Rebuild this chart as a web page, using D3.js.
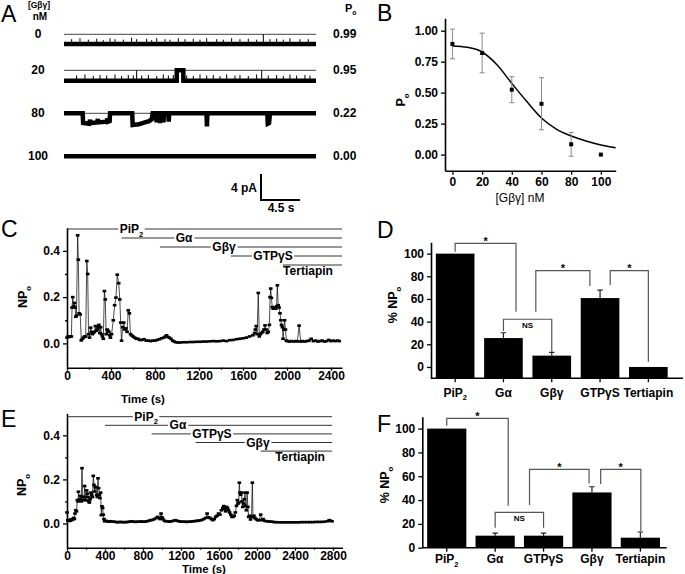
<!DOCTYPE html>
<html><head><meta charset="utf-8">
<script src="https://cdn.jsdelivr.net/npm/d3@7"></script>
<style>body{margin:0;background:#fff}svg{display:block}</style>
</head><body>
<svg id="fig" width="685" height="574"></svg>
<script>
// ---------------- DATA ----------------
// Panel A: single-channel traces (time s, current pA relative to closed level)
const aConc = ['0','20','80','100'];
const aPo = ['0.99','0.95','0.22','0.00'];
const aTrace0 = [[0,-1.5],[29,-1.5]];
const aTrace20 = [[0,-1.6],[12.97,-1.6],[12.98,0],[13.73,0],[13.74,-1.6],[29,-1.6]];
const aTrace80 = [[0,0],[2.15,0],[2.2,-1.5],[2.9,-1.6],[3.0,-1.0],[3.05,-1.5],[3.8,-1.4],[3.9,-0.9],[3.95,-1.4],[4.9,-1.3],[5.0,-0.8],[5.05,-1.3],[5.25,-1.2],[5.3,0],[7.85,0],[7.9,-1.8],[8.6,-1.7],[9.3,-1.4],[9.8,-1.2],[10.1,-0.9],[10.2,0],[10.6,0],[10.65,-1.4],[10.7,0],[11.0,0],[11.05,-1.5],[11.1,0],[11.4,0],[11.45,-1.4],[11.5,0],[12.0,0],[12.05,-1.3],[12.1,0],[16.4,0],[16.45,-2.0],[16.5,0],[23.4,0],[23.45,-1.6],[23.6,-1.5],[23.7,0],[29,0]];
const aTrace100 = [[0,0],[29,0]];
// brief closures (time s, fraction of way back to closed level)
const aClosures0 = [[0.88,0.5],[1.84,0.6],[2.8,0.45],[3.76,0.55],[4.52,0.4],[5.29,0.6],[5.87,0.5],[6.83,0.45],[7.78,0.65],[8.36,0.5],[9.51,0.55],[10.09,0.4],[10.67,0.6],[11.62,0.5],[12.2,0.45],[13.16,0.6],[13.92,0.5],[14.88,0.55],[15.65,0.45],[16.42,0.6],[17.57,0.5],[18.33,0.45],[19.29,0.6],[20.25,0.5],[21.21,0.55],[22.17,0.45],[22.94,1.0],[23.7,0.5],[24.47,0.55],[25.24,0.45],[26.0,0.6],[27.15,0.5],[28.11,0.5]];
const aClosures20 = [[1.45,0.5],[2.41,0.6],[3.37,0.45],[4.14,0.55],[4.91,0.5],[5.87,0.6],[6.63,0.45],[7.4,0.55],[7.98,0.5],[8.36,1.0],[8.94,0.5],[9.71,0.55],[10.67,0.45],[11.43,0.6],[12.01,0.5],[12.58,0.55],[14.12,0.5],[14.88,0.45],[15.65,0.6],[16.42,0.5],[17.18,0.55],[17.95,0.45],[18.72,0.6],[19.68,0.5],[20.25,0.55],[21.21,0.45],[22.17,0.6],[22.75,1.0],[23.51,0.5],[24.47,0.55],[25.24,0.45],[26.0,0.6],[26.77,0.5],[27.73,0.55],[28.31,0.5]];

// Panel B
const bConc = [0,20,40,60,80,100];
const bPo = [0.893,0.82,0.524,0.41,0.083,0];
const bErr = [0.12,0.16,0.105,0.21,0.096,0];
const bFitX = [0,10,20,30,40,50,60,70,80,90,100,110];
const bFitY = [0.877,0.866,0.828,0.725,0.575,0.43,0.295,0.205,0.15,0.11,0.078,0.056];

// Panel C: NPo vs time
const cData = [[0,0.025],[10,0.03],[20,0.028],[30,0.03],[40,0.03],[46,0.155],[52,0.2],[60,0.16],[68,0.175],[74,0.155],[80,0.115],[86,0.12],[97,0.467],[103,0.362],[110,0.13],[120,0.125],[130,0.013],[140,0.02],[150,0.025],[160,0.03],[170,0.03],[180,0.356],[188,0.3],[196,0.04],[205,0.025],[215,0.068],[222,0.05],[230,0.04],[240,0.045],[250,0.05],[258,0.075],[266,0.055],[275,0.06],[282,0.07],[290,0.08],[298,0.045],[306,0.07],[314,0.04],[322,0.03],[330,0.02],[340,0.226],[348,0.19],[356,0.04],[364,0.06],[372,0.055],[380,0.05],[388,0.035],[395,0.025],[405,0.04],[421,0.1],[433,0.165],[445,0.198],[457,0.297],[470,0.26],[480,0.19],[488,0.09],[496,0.012],[506,0.07],[516,0.09],[526,0.06],[536,0.065],[546,0.05],[557,0.143],[567,0.13],[577,0.04],[587,0.035],[600,0.03],[615,0.025],[630,0.02],[645,0.02],[660,0.015],[680,0.015],[700,0.018],[720,0.012],[740,0.012],[760,0.01],[780,0.012],[800,0.012],[820,0.015],[840,0.018],[860,0.022],[880,0.025],[895,0.03],[905,0.035],[915,0.028],[930,0.025],[945,0.02],[960,0.012],[975,0.008],[990,0.005],[1010,0.004],[1030,0.004],[1060,0.005],[1090,0.005],[1120,0.006],[1150,0.006],[1180,0.007],[1210,0.007],[1240,0.008],[1270,0.008],[1300,0.009],[1330,0.01],[1360,0.009],[1390,0.01],[1420,0.012],[1450,0.01],[1480,0.014],[1510,0.015],[1540,0.018],[1570,0.02],[1600,0.022],[1630,0.025],[1660,0.03],[1690,0.035],[1705,0.045],[1712,0.06],[1720,0.075],[1728,0.04],[1739,0.218],[1748,0.03],[1758,0.04],[1768,0.045],[1780,0.05],[1790,0.06],[1800,0.078],[1810,0.06],[1820,0.045],[1830,0.05],[1840,0.08],[1846,0.2],[1852,0.237],[1858,0.197],[1866,0.157],[1874,0.15],[1882,0.15],[1890,0.155],[1898,0.15],[1905,0.16],[1912,0.251],[1920,0.165],[1928,0.155],[1936,0.13],[1944,0.1],[1950,0.08],[1958,0.07],[1964,0.02],[1972,0.06],[1978,0.1],[1986,0.06],[1994,0.012],[2005,0.01],[2020,0.008],[2040,0.01],[2060,0.008],[2080,0.01],[2095,0.009],[2110,0.077],[2125,0.008],[2140,0.01],[2160,0.008],[2180,0.01],[2200,0.012],[2220,0.02],[2240,0.01],[2260,0.012],[2280,0.008],[2300,0.01],[2320,0.012],[2340,0.008],[2360,0.01],[2380,0.015],[2400,0.01],[2420,0.012],[2440,0.01],[2460,0.012],[2475,0.01]];
const cTreat = ['PiP_2','Gα','Gβγ','GTPγS','Tertiapin'];
const cTreatStart = [0,497,845,1490,1961];
const cTreatLabelT = [586,1064,1427,1873,2191];

// Panel E
const eData = [[0,0.05],[8,0.015],[16,0.012],[24,0.015],[32,0.012],[40,0.018],[50,0.015],[60,0.02],[70,0.025],[78,0.02],[84,0.045],[92,0.06],[100,0.055],[109,0.106],[116,0.1],[120,0.144],[128,0.106],[136,0.11],[144,0.125],[150,0.1],[158,0.251],[166,0.12],[172,0.106],[180,0.12],[186,0.17],[194,0.12],[200,0.105],[207,0.15],[214,0.135],[222,0.12],[230,0.1],[236,0.095],[244,0.11],[252,0.14],[260,0.13],[268,0.12],[277,0.216],[284,0.175],[291,0.145],[298,0.165],[305,0.165],[312,0.13],[319,0.12],[326,0.205],[333,0.16],[340,0.13],[347,0.115],[354,0.14],[361,0.038],[368,0.078],[375,0.07],[382,0.04],[389,0.02],[396,0.01],[410,0.012],[425,0.01],[440,0.008],[460,0.01],[480,0.008],[500,0.008],[520,0.006],[540,0.006],[560,0.007],[580,0.006],[600,0.006],[620,0.006],[640,0.007],[660,0.008],[680,0.01],[700,0.008],[720,0.007],[740,0.008],[760,0.008],[780,0.009],[800,0.008],[820,0.008],[840,0.01],[860,0.012],[880,0.015],[900,0.016],[920,0.02],[940,0.025],[955,0.03],[968,0.025],[980,0.02],[990,0.045],[1000,0.028],[1010,0.02],[1025,0.012],[1040,0.01],[1060,0.01],[1080,0.008],[1100,0.01],[1120,0.012],[1140,0.015],[1160,0.012],[1180,0.01],[1200,0.008],[1220,0.008],[1240,0.008],[1260,0.007],[1280,0.008],[1300,0.008],[1320,0.01],[1340,0.01],[1360,0.012],[1380,0.012],[1400,0.014],[1420,0.016],[1440,0.02],[1460,0.025],[1475,0.045],[1490,0.028],[1505,0.025],[1520,0.02],[1535,0.015],[1550,0.02],[1565,0.03],[1580,0.035],[1595,0.045],[1610,0.04],[1625,0.06],[1640,0.07],[1650,0.079],[1660,0.065],[1670,0.055],[1680,0.075],[1690,0.07],[1700,0.06],[1712,0.05],[1724,0.04],[1736,0.03],[1748,0.03],[1760,0.035],[1772,0.05],[1784,0.08],[1793,0.106],[1800,0.09],[1808,0.095],[1814,0.185],[1820,0.14],[1828,0.13],[1836,0.14],[1842,0.1],[1850,0.075],[1858,0.09],[1866,0.11],[1874,0.14],[1880,0.08],[1888,0.06],[1896,0.14],[1904,0.075],[1912,0.03],[1922,0.035],[1932,0.018],[1942,0.03],[1951,0.185],[1958,0.03],[1968,0.035],[1978,0.025],[1990,0.02],[2005,0.015],[2020,0.015],[2039,0.04],[2050,0.015],[2065,0.02],[2080,0.012],[2100,0.01],[2120,0.01],[2140,0.008],[2160,0.008],[2180,0.006],[2200,0.006],[2230,0.005],[2260,0.005],[2290,0.005],[2320,0.005],[2350,0.005],[2380,0.005],[2410,0.005],[2440,0.005],[2470,0.006],[2500,0.006],[2530,0.006],[2560,0.006],[2590,0.006],[2620,0.007],[2650,0.007],[2680,0.007],[2710,0.008],[2740,0.01],[2760,0.015],[2775,0.012],[2790,0.01]];
const eTreat = ['PiP_2','Gα','GTPγS','Gβγ','Tertiapin'];
const eTreatStart = [0,400,891,1355,2039];
const eTreatLabelT = [832,1168,1526,2010,2453];

// Panel D
const dCats = ['PiP_2','Gα','Gβγ','GTPγS','Tertiapin'];
const dVals = [100,25.5,10,60.8,0];
const dErr = [0,4.7,2.9,7,0];
// brackets: [leftIdx, rightIdx, top, leftLegEnd, rightLegEnd, label]
const dBrackets = [[0,1.26,109,101.7,48.8,'*'],[1,2,42.1,31.8,13.5,'NS'],[1.67,2.79,85,48.8,71.5,'*'],[3.21,4,85,72.4,4.7,'*']];

// Panel F
const fCats = ['PiP_2','Gα','GTPγS','Gβγ','Tertiapin'];
const fVals = [100,10.1,10.1,46.4,8.4];
const fErr = [0,2.1,2.1,4.8,4.8];
const fBrackets = [[0,1.27,108.6,102.4,35.3,'*'],[1,2,29.7,16.8,16.8,'NS'],[1.71,2.94,65.8,35.9,54.1,'*'],[3.18,4.01,65.8,53.5,14.0,'*']];

// ---------------- DRAWING ----------------
const FONT = '"Liberation Sans", Arial, Helvetica, sans-serif';
const svg = d3.select('#fig').attr('font-family', FONT);

function rich(sel, label, fs) {
  const parts = []; let buf = ''; let i = 0;
  while (i < label.length) {
    if (label[i] === '_') { if (buf) parts.push([buf, false]); buf = ''; parts.push([label[i+1], true]); i += 2; }
    else { buf += label[i]; i++; }
  }
  if (buf) parts.push([buf, false]);
  let shifted = false;
  parts.forEach(([s, isSub]) => {
    const ts = sel.append('tspan').text(s);
    if (isSub) { ts.attr('font-size', fs * 0.62).attr('dy', fs * 0.3); shifted = true; }
    else if (shifted) { ts.attr('dy', -fs * 0.3); shifted = false; }
  });
  return sel;
}
function txt(x, y, label, fs, opts = {}) {
  const t = svg.append('text').attr('x', x).attr('y', y)
    .attr('font-size', fs).attr('font-weight', opts.weight || 'bold')
    .attr('text-anchor', opts.anchor || 'start').attr('fill', '#000');
  if (opts.rotate) t.attr('transform', `rotate(-90,${x},${y})`);
  return rich(t, label, fs);
}
function styleAxis(g, keepDomain = true) {
  g.attr('font-family', FONT).attr('font-size', 12).attr('font-weight', 'bold');
  g.selectAll('text').attr('fill', '#000');
  g.selectAll('.tick line').attr('stroke', '#000').attr('stroke-width', 1.3);
  if (keepDomain) g.select('.domain').attr('stroke', '#000').attr('stroke-width', 1.6);
  else g.select('.domain').remove();
}
function panelLetter(x, y, s) {
  svg.append('text').attr('x', x).attr('y', y).attr('font-size', 23).attr('font-weight', 'normal').attr('fill', '#000').text(s);
}

// ===== Panel A =====
panelLetter(1, 21.7, 'A');
const xA = d3.scaleLinear().domain([0, 29]).range([64, 316]);
const yPA = d3.scaleLinear().domain([0, -1]).range([0, 6.5]);
const rowY = [34.3, 70.3, 113.3, 156.2];
const traces = [aTrace0, aTrace20, aTrace80, aTrace100];
const closures = [aClosures0, aClosures20, [], []];
txt(39, 8, '[Gβγ]', 8.5, {anchor: 'middle'});
txt(40, 19.5, 'nM', 10, {anchor: 'middle'});
txt(345, 12, 'P_o', 11, {anchor: 'start'});
aConc.forEach((c, i) => {
  const base = rowY[i];
  txt(38, base + 4, c, 12, {anchor: 'middle'});
  txt(333, base + 4, aPo[i], 12);
  if (i < 3) svg.append('line').attr('x1', xA(0)).attr('x2', xA(29)).attr('y1', base).attr('y2', base)
    .attr('stroke', '#444').attr('stroke-width', 1);
  const line = d3.line().x(d => xA(d[0])).y(d => base + yPA(d[1]));
  svg.append('path').attr('d', line(traces[i])).attr('fill', 'none').attr('stroke', '#000')
    .attr('stroke-width', 4.5).attr('stroke-linejoin', 'miter');
  const lvl = traces[i][0][1];
  svg.selectAll(null).data(closures[i]).enter().append('line')
    .attr('x1', d => xA(d[0])).attr('x2', d => xA(d[0]))
    .attr('y1', base + yPA(lvl)).attr('y2', d => base + yPA(lvl * (1 - d[1])))
    .attr('stroke', '#000').attr('stroke-width', 1);
});
// scale bar
const sbX = 261, sbY = 200;
svg.append('path').attr('d', `M${sbX},${sbY - yPA(-4)}V${sbY}H${sbX + xA(4.5) - xA(0)}`)
  .attr('fill', 'none').attr('stroke', '#000').attr('stroke-width', 2);
txt(257, 191.5, '4 pA', 12, {anchor: 'end'});
txt(281, 211.5, '4.5 s', 12, {anchor: 'middle'});

// ===== Panel B =====
panelLetter(377, 20.7, 'B');
const xB = d3.scaleLinear().domain([-5, 110]).range([445, 615.7]);
const yB = d3.scaleLinear().domain([-0.13, 1.1]).range([170.7, 18.3]);
const gBy = svg.append('g').attr('transform', 'translate(445,0)')
  .call(d3.axisLeft(yB).tickValues([0, 0.25, 0.5, 0.75, 1]).tickFormat(d3.format('.2f')).tickSize(4).tickSizeOuter(0).tickPadding(3));
styleAxis(gBy);
const gBx = svg.append('g').attr('transform', 'translate(0,170.7)')
  .call(d3.axisBottom(xB).tickValues(bConc).tickSize(4).tickSizeOuter(0).tickPadding(3));
styleAxis(gBx);
txt(405, 100, 'P_o', 12.5, {anchor: 'middle', rotate: true});
txt(520, 202, '[Gβγ] nM', 12, {anchor: 'middle', weight: 'normal'});
svg.append('path').datum(bFitX.map((x, i) => [x, bFitY[i]]))
  .attr('d', d3.line().x(d => xB(d[0])).y(d => yB(d[1])).curve(d3.curveMonotoneX))
  .attr('fill', 'none').attr('stroke', '#000').attr('stroke-width', 1.5);
bConc.forEach((c, i) => {
  if (bErr[i] > 0) {
    const x = xB(c), y1 = yB(bPo[i] - bErr[i]), y2 = yB(bPo[i] + bErr[i]);
    svg.append('path').attr('d', `M${x},${y1}V${y2}M${x - 2.5},${y1}H${x + 2.5}M${x - 2.5},${y2}H${x + 2.5}`)
      .attr('stroke', '#888').attr('stroke-width', 1).attr('fill', 'none');
  }
  svg.append('rect').attr('x', xB(c) - 2).attr('y', yB(bPo[i]) - 2).attr('width', 4).attr('height', 4).attr('fill', '#000');
});

// ===== time course panels C & E =====
function timeCourse(cfg) {
  panelLetter(cfg.letterX, cfg.letterY, cfg.letter);
  const x = d3.scaleLinear().domain(cfg.xDom).range(cfg.xRange);
  const y = d3.scaleLinear().domain(cfg.yDom).range(cfg.yRange);
  const gy = svg.append('g').attr('transform', `translate(${cfg.xRange[0]},0)`)
    .call(d3.axisLeft(y).tickValues([0, 0.2, 0.4]).tickFormat(d3.format('.1f')).tickSize(4).tickSizeOuter(0).tickPadding(3));
  styleAxis(gy);
  const gym = svg.append('g').attr('transform', `translate(${cfg.xRange[0]},0)`)
    .call(d3.axisLeft(y).tickValues([0.1, 0.3]).tickFormat('').tickSize(2).tickSizeOuter(0));
  styleAxis(gym, false);
  const gx = svg.append('g').attr('transform', `translate(0,${cfg.yRange[0]})`)
    .call(d3.axisBottom(x).tickValues(cfg.xTicks).tickFormat(d3.format('d')).tickSize(3).tickSizeOuter(0).tickPadding(0.5));
  styleAxis(gx);
  const gxm = svg.append('g').attr('transform', `translate(0,${cfg.yRange[0]})`)
    .call(d3.axisBottom(x).tickValues(cfg.xTicks.slice(0, -1).map(t => t + 200)).tickFormat('').tickSize(2).tickSizeOuter(0));
  styleAxis(gxm, false);
  txt(cfg.yLabelX, cfg.yLabelY, 'NP_o', 12.5, {anchor: 'middle', rotate: true});
  txt(cfg.xLabelX, cfg.xLabelY, 'Time (s)', 11.5, {anchor: 'middle'});
  // treatment bars
  cfg.treat.forEach((name, i) => {
    const ly = cfg.treatY0 + i * cfg.treatDy;
    svg.append('line').attr('x1', x(cfg.treatStart[i])).attr('x2', x(cfg.treatEnd)).attr('y1', ly).attr('y2', ly)
      .attr('stroke', '#333').attr('stroke-width', 1);
    const last = i === cfg.treat.length - 1;
    const t = txt(x(cfg.treatLabelT[i]), last ? ly + 10 : ly + 4, name, 12, {anchor: 'middle'});
    if (!last) {
      const bb = t.node().getBBox();
      svg.insert('rect', () => t.node()).attr('x', bb.x - 1.5).attr('y', ly - 2).attr('width', bb.width + 3).attr('height', 4).attr('fill', '#fff');
    }
  });
  svg.append('path').datum(cfg.data).attr('d', d3.line().x(d => x(d[0])).y(d => y(d[1])))
    .attr('fill', 'none').attr('stroke', '#000').attr('stroke-width', 0.7);
  svg.selectAll(null).data(cfg.data).enter().append('rect')
    .attr('x', d => x(d[0]) - 1.8).attr('y', d => y(d[1]) - 1.3).attr('width', 3.6).attr('height', 2.6).attr('fill', '#000');
}
timeCourse({letter: 'C', letterX: 1, letterY: 237, xDom: [0, 2500], xRange: [67, 342], yDom: [-0.105, 0.5], yRange: [367.7, 227.7],
  xTicks: [0, 400, 800, 1200, 1600, 2000, 2400], yLabelX: 27, yLabelY: 297, xLabelX: 143, xLabelY: 403,
  data: cData, treat: cTreat, treatStart: cTreatStart, treatEnd: 2500, treatLabelT: cTreatLabelT, treatY0: 229, treatDy: 9});
timeCourse({letter: 'E', letterX: 1, letterY: 427, xDom: [0, 2900], xRange: [67, 342.5], yDom: [-0.11, 0.5], yRange: [547.7, 413.3],
  xTicks: [0, 400, 800, 1200, 1600, 2000, 2400, 2800], yLabelX: 26, yLabelY: 485, xLabelX: 204, xLabelY: 572.5,
  data: eData, treat: eTreat, treatStart: eTreatStart, treatEnd: 2790, treatLabelT: eTreatLabelT, treatY0: 416.7, treatDy: 8.6});

// ===== bar panels D & F =====
function barPanel(cfg) {
  panelLetter(cfg.letterX, cfg.letterY, cfg.letter);
  const x = d3.scaleBand().domain(cfg.cats).range(cfg.xRange).paddingInner(cfg.pi).paddingOuter(0.1);
  const y = d3.scaleLinear().domain(cfg.yDom).range(cfg.yRange);
  const gy = svg.append('g').attr('transform', `translate(${cfg.xRange[0]},0)`)
    .call(d3.axisLeft(y).tickValues([0, 20, 40, 60, 80, 100]).tickSize(4).tickSizeOuter(0).tickPadding(3));
  styleAxis(gy);
  const gx = svg.append('g').attr('transform', `translate(0,${cfg.yRange[0]})`)
    .call(d3.axisBottom(x).tickSize(4).tickSizeOuter(0).tickFormat(''));
  styleAxis(gx, false);
  svg.append('line').attr('x1', cfg.xRange[0]).attr('x2', cfg.axisEnd).attr('y1', cfg.yRange[0]).attr('y2', cfg.yRange[0])
    .attr('stroke', '#000').attr('stroke-width', 1.6);
  const cx = c => x(c) + x.bandwidth() / 2;
  svg.selectAll(null).data(cfg.cats).enter().append('rect')
    .attr('x', c => x(c)).attr('width', x.bandwidth())
    .attr('y', (c, i) => y(cfg.vals[i])).attr('height', (c, i) => y(cfg.yDom[0]) - y(cfg.vals[i]))
    .attr('fill', '#000');
  cfg.cats.forEach((c, i) => {
    if (cfg.err[i] > 0) {
      const xx = cx(c), y1 = y(cfg.vals[i]), y2 = y(cfg.vals[i] + cfg.err[i]);
      svg.append('path').attr('d', `M${xx},${y1}V${y2}M${xx - 2.7},${y2}H${xx + 2.7}`)
        .attr('stroke', '#222').attr('stroke-width', 1.2).attr('fill', 'none');
    }
    txt(cx(c), cfg.catLabelY, c, 12, {anchor: 'middle'});
  });
  const step = x.step();
  const px = idx => cx(cfg.cats[0]) + idx * step;
  cfg.brackets.forEach(([a, b, top, la, lb, lab]) => {
    const x1 = px(a), x2 = px(b), yt = y(top);
    svg.append('path').attr('d', `M${x1},${y(la)}V${yt}H${x2}V${y(lb)}`)
      .attr('fill', 'none').attr('stroke', '#555').attr('stroke-width', 1.2);
    if (lab === 'NS') txt((x1 + x2) / 2, yt + 8.5, 'NS', 8, {anchor: 'middle'});
    else txt((x1 + x2) / 2, yt + 1.5, '*', 11, {anchor: 'middle'});
  });
  txt(cfg.yLabelX, cfg.yLabelY, '% NP_o', 12.5, {anchor: 'middle', rotate: true});
}
barPanel({letter: 'D', letterX: 377, letterY: 238.3, cats: dCats, vals: dVals, err: dErr, brackets: dBrackets,
  xRange: [431, 672.5], pi: 0.2, axisEnd: 683, yDom: [-10, 110], yRange: [378.3, 242.3], catLabelY: 396.5, yLabelX: 397, yLabelY: 305});
barPanel({letter: 'F', letterX: 377, letterY: 431.7, cats: fCats, vals: fVals, err: fErr, brackets: fBrackets,
  xRange: [422.3, 664.8], pi: 0.19, axisEnd: 666.7, yDom: [0, 110], yRange: [547.7, 416.7], catLabelY: 563, yLabelX: 389, yLabelY: 485});
</script>
</body></html>
